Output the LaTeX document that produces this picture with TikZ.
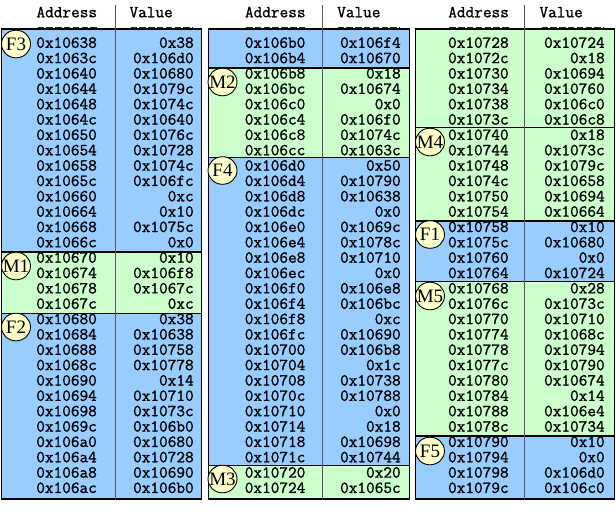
\documentclass[tikz,border=0pt]{standalone}
\usepackage{fontspec}
\usetikzlibrary{shapes.geometric}
\newfontfamily\monof{Latin Modern Mono}[FakeBold=1.1]
\newfontfamily\labf{Liberation Serif}
\definecolor{memblue}{HTML}{99CCFF}
\definecolor{memgreen}{HTML}{CCFFCC}
\definecolor{labfill}{HTML}{FFFFCC}
\newcommand\lbltxt[1]{\makebox[0pt][c]{#1}}
\tikzset{
  cell/.style={font=\monof\fontsize{16.8}{18}\selectfont, inner sep=0pt, outer sep=0pt},
  addr/.style={cell, anchor=base west},
  val/.style={cell, anchor=base east},
  hdr/.style={cell, anchor=base west},
  memblk/.style={draw=black, line width=1.2pt},
  lab/.style={ellipse, draw=black, fill=labfill, line width=0.9pt, minimum width=29pt,
    minimum height=27.6pt, inner sep=0pt, font=\labf\fontsize{19}{19}\selectfont},
  sepline/.style={draw=black!65, line width=0.8pt},
  dashrule/.style={draw=black!85, line width=1.4pt, dash pattern=on 6.5pt off 2.3pt}
}
\newcommand\colhead[5]{%
  \node[hdr] (h#5a) at (#1-1,17.3) {Address};
  \node[hdr] (h#5v) at (#3-0.5,17.3) {Value};
  \coordinate (d#5a1) at (#1,27.6); \coordinate (d#5a2) at (#1+61.5,27.6);
  \coordinate (d#5v1) at (#4-62,27.6); \coordinate (d#5v2) at (#4,27.6);
  \draw[dashrule] (d#5a1) -- (d#5a2);
  \draw[dashrule] (d#5v1) -- (d#5v2);
}
\newcommand\colrows[5]{%
  \coordinate (s#3t) at (#2,5); \coordinate (s#3b) at (#2,499);
  \draw[sepline] (s#3t) -- (s#3b);
  \foreach \ad/\va [count=\i from 0] in #4 {
    \pgfmathsetmacro\yy{47.8+15.35*\i}
    \node[addr] (c#3r\i a) at (#1-1.2,\yy) {\ad};
    \node[val] (c#3r\i v) at (#5+1.2,\yy) {\va};
  }
}
\def\colA{0x10638/0x38,0x1063c/0x106d0,0x10640/0x10680,0x10644/0x1079c,0x10648/0x1074c,0x1064c/0x10640,0x10650/0x1076c,0x10654/0x10728,0x10658/0x1074c,0x1065c/0x106fc,0x10660/0xc,0x10664/0x10,0x10668/0x1075c,0x1066c/0x0,0x10670/0x10,0x10674/0x106f8,0x10678/0x1067c,0x1067c/0xc,0x10680/0x38,0x10684/0x10638,0x10688/0x10758,0x1068c/0x10778,0x10690/0x14,0x10694/0x10710,0x10698/0x1073c,0x1069c/0x106b0,0x106a0/0x10680,0x106a4/0x10728,0x106a8/0x10690,0x106ac/0x106b0}
\def\colB{0x106b0/0x106f4,0x106b4/0x10670,0x106b8/0x18,0x106bc/0x10674,0x106c0/0x0,0x106c4/0x106f0,0x106c8/0x1074c,0x106cc/0x1063c,0x106d0/0x50,0x106d4/0x10790,0x106d8/0x10638,0x106dc/0x0,0x106e0/0x1069c,0x106e4/0x1078c,0x106e8/0x10710,0x106ec/0x0,0x106f0/0x106e8,0x106f4/0x106bc,0x106f8/0xc,0x106fc/0x10690,0x10700/0x106b8,0x10704/0x1c,0x10708/0x10738,0x1070c/0x10788,0x10710/0x0,0x10714/0x18,0x10718/0x10698,0x1071c/0x10744,0x10720/0x20,0x10724/0x1065c}
\def\colC{0x10728/0x10724,0x1072c/0x18,0x10730/0x10694,0x10734/0x10760,0x10738/0x106c0,0x1073c/0x106c8,0x10740/0x18,0x10744/0x1073c,0x10748/0x1079c,0x1074c/0x10658,0x10750/0x10694,0x10754/0x10664,0x10758/0x10,0x1075c/0x10680,0x10760/0x0,0x10764/0x10724,0x10768/0x28,0x1076c/0x1073c,0x10770/0x10710,0x10774/0x1068c,0x10778/0x10794,0x1077c/0x10790,0x10780/0x10674,0x10784/0x14,0x10788/0x106e4,0x1078c/0x10734,0x10790/0x10,0x10794/0x0,0x10798/0x106d0,0x1079c/0x106c0}
\begin{document}
\begin{tikzpicture}[x=1pt,y=-1pt]
\useasboundingbox (0,0) rectangle (616,520);
% headers and dashes
\colhead{37.5}{115}{130}{192.5}{1}
\colhead{246}{322.3}{337.7}{399.5}{2}
\colhead{449.3}{524.3}{540}{603.5}{3}
% column 1 blocks
\filldraw[memblk, fill=memblue]  (1.5,29)    rectangle (201.8,252);
\filldraw[memblk, fill=memgreen] (1.5,252)   rectangle (201.8,313.5);
\filldraw[memblk, fill=memblue]  (1.5,313.5) rectangle (201.8,499);
% column 2 blocks
\filldraw[memblk, fill=memblue]  (208.3,29)    rectangle (409.3,68);
\filldraw[memblk, fill=memgreen] (208.3,68)    rectangle (409.3,157.5);
\filldraw[memblk, fill=memblue]  (208.3,157.5) rectangle (409.3,465.5);
\filldraw[memblk, fill=memgreen] (208.3,465.5) rectangle (409.3,499);
% column 3 blocks
\filldraw[memblk, fill=memgreen] (415.5,29)    rectangle (614.8,127.5);
\filldraw[memblk, fill=memgreen] (415.5,127.5) rectangle (614.8,221);
\filldraw[memblk, fill=memblue]  (415.5,221)   rectangle (614.8,281.5);
\filldraw[memblk, fill=memgreen] (415.5,281.5) rectangle (614.8,436);
\filldraw[memblk, fill=memblue]  (415.5,436)   rectangle (614.8,499);
% rows
\colrows{37.5}{115}{1}{\colA}{192.5}
\colrows{246}{322.3}{2}{\colB}{399.5}
\colrows{449.3}{524.3}{3}{\colC}{603.5}
% labels
\node[lab] (F3) at (16,44) {\lbltxt{F3}};
\node[lab] (M1) at (16,266) {\lbltxt{M1}};
\node[lab] (F2) at (16,327) {\lbltxt{F2}};
\node[lab] (M2) at (222.5,82) {\lbltxt{M2}};
\node[lab] (F4) at (222.5,170.5) {\lbltxt{F4}};
\node[lab] (M3) at (222.5,479) {\lbltxt{M3}};
\node[lab] (M4) at (430,142) {\lbltxt{M4}};
\node[lab] (F1) at (430,234.5) {\lbltxt{F1}};
\node[lab] (M5) at (430,296) {\lbltxt{M5}};
\node[lab] (F5) at (430,451) {\lbltxt{F5}};
\end{tikzpicture}
\end{document}
